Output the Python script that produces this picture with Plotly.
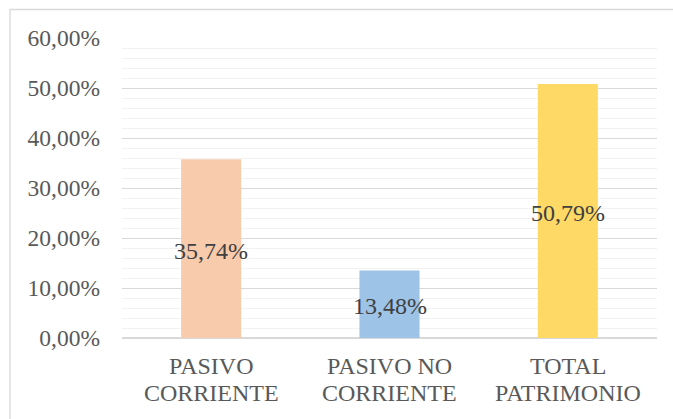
import plotly.graph_objects as go

categories = ["PASIVO<br>CORRIENTE", "PASIVO NO<br>CORRIENTE", "TOTAL<br>PATRIMONIO"]
values = [35.74, 13.48, 50.79]
colors = ["#F8CBAD", "#9DC3E6", "#FFD966"]
tick_vals = [0, 10, 20, 30, 40, 50, 60]
tick_text = ["0,00%", "10,00%", "20,00%", "30,00%", "40,00%", "50,00%", "60,00%"]

FONT = "Liberation Serif"

fig = go.Figure()
fig.add_trace(go.Bar(
    x=categories, y=values, marker=dict(color=colors, line=dict(width=0)),
    hoverinfo="skip",
))

for c, v in zip(categories, values):
    fig.add_annotation(x=c, y=v / 2, text=f"{v:.2f}%".replace(".", ","),
                       showarrow=False, xref="x", yref="y", yshift=-2,
                       font=dict(family=FONT, size=24, color="#404040"))

W, H = 673, 419
L, R, T, B = 122, 16, 38, 81
pw, ph = W - L - R, H - T - B

# category labels (two lines each)
for c in categories:
    lines = c.split("<br>")
    for i, ln in enumerate(lines):
        ypx = 366 + 27 * i
        fig.add_annotation(x=c, xref="x", yref="paper", y=(H - B - ypx) / ph,
                           yanchor="middle", text=ln, showarrow=False,
                           font=dict(family=FONT, size=24, color="#595959"))

fig.add_shape(type="rect", xref="paper", yref="paper",
              x0=(10 - L) / pw, x1=(W + 5 - L) / pw,
              y0=(H - B - (H + 5)) / ph, y1=(H - B - 9.5) / ph,
              line=dict(color="#D9D9D9", width=1.3), fillcolor="rgba(0,0,0,0)",
              layer="below")

fig.update_layout(
    width=W, height=H,
    margin=dict(l=L, r=R, t=T, b=B, autoexpand=False),
    paper_bgcolor="white", plot_bgcolor="white",
    bargap=0.663,
    showlegend=False,
    font=dict(family=FONT, size=22, color="#595959"),
    xaxis=dict(showgrid=False, zeroline=False, showline=False, ticks="",
               showticklabels=False),
    yaxis=dict(range=[0, 60], tickmode="array", tickvals=tick_vals, ticktext=tick_text,
               showgrid=True, gridcolor="#D9D9D9", gridwidth=1.3,
               zeroline=True, zerolinecolor="#D9D9D9", zerolinewidth=1.5,
               showline=False, ticks="", ticklabelstandoff=21,
               tickfont=dict(family=FONT, size=23.5, color="#595959"),
               minor=dict(dtick=2, showgrid=True, gridcolor="#F2F2F2", gridwidth=1.3)),
)

fig.write_html("out.html", config={"displayModeBar": False},
               post_script="document.body.style.margin='0px';")
